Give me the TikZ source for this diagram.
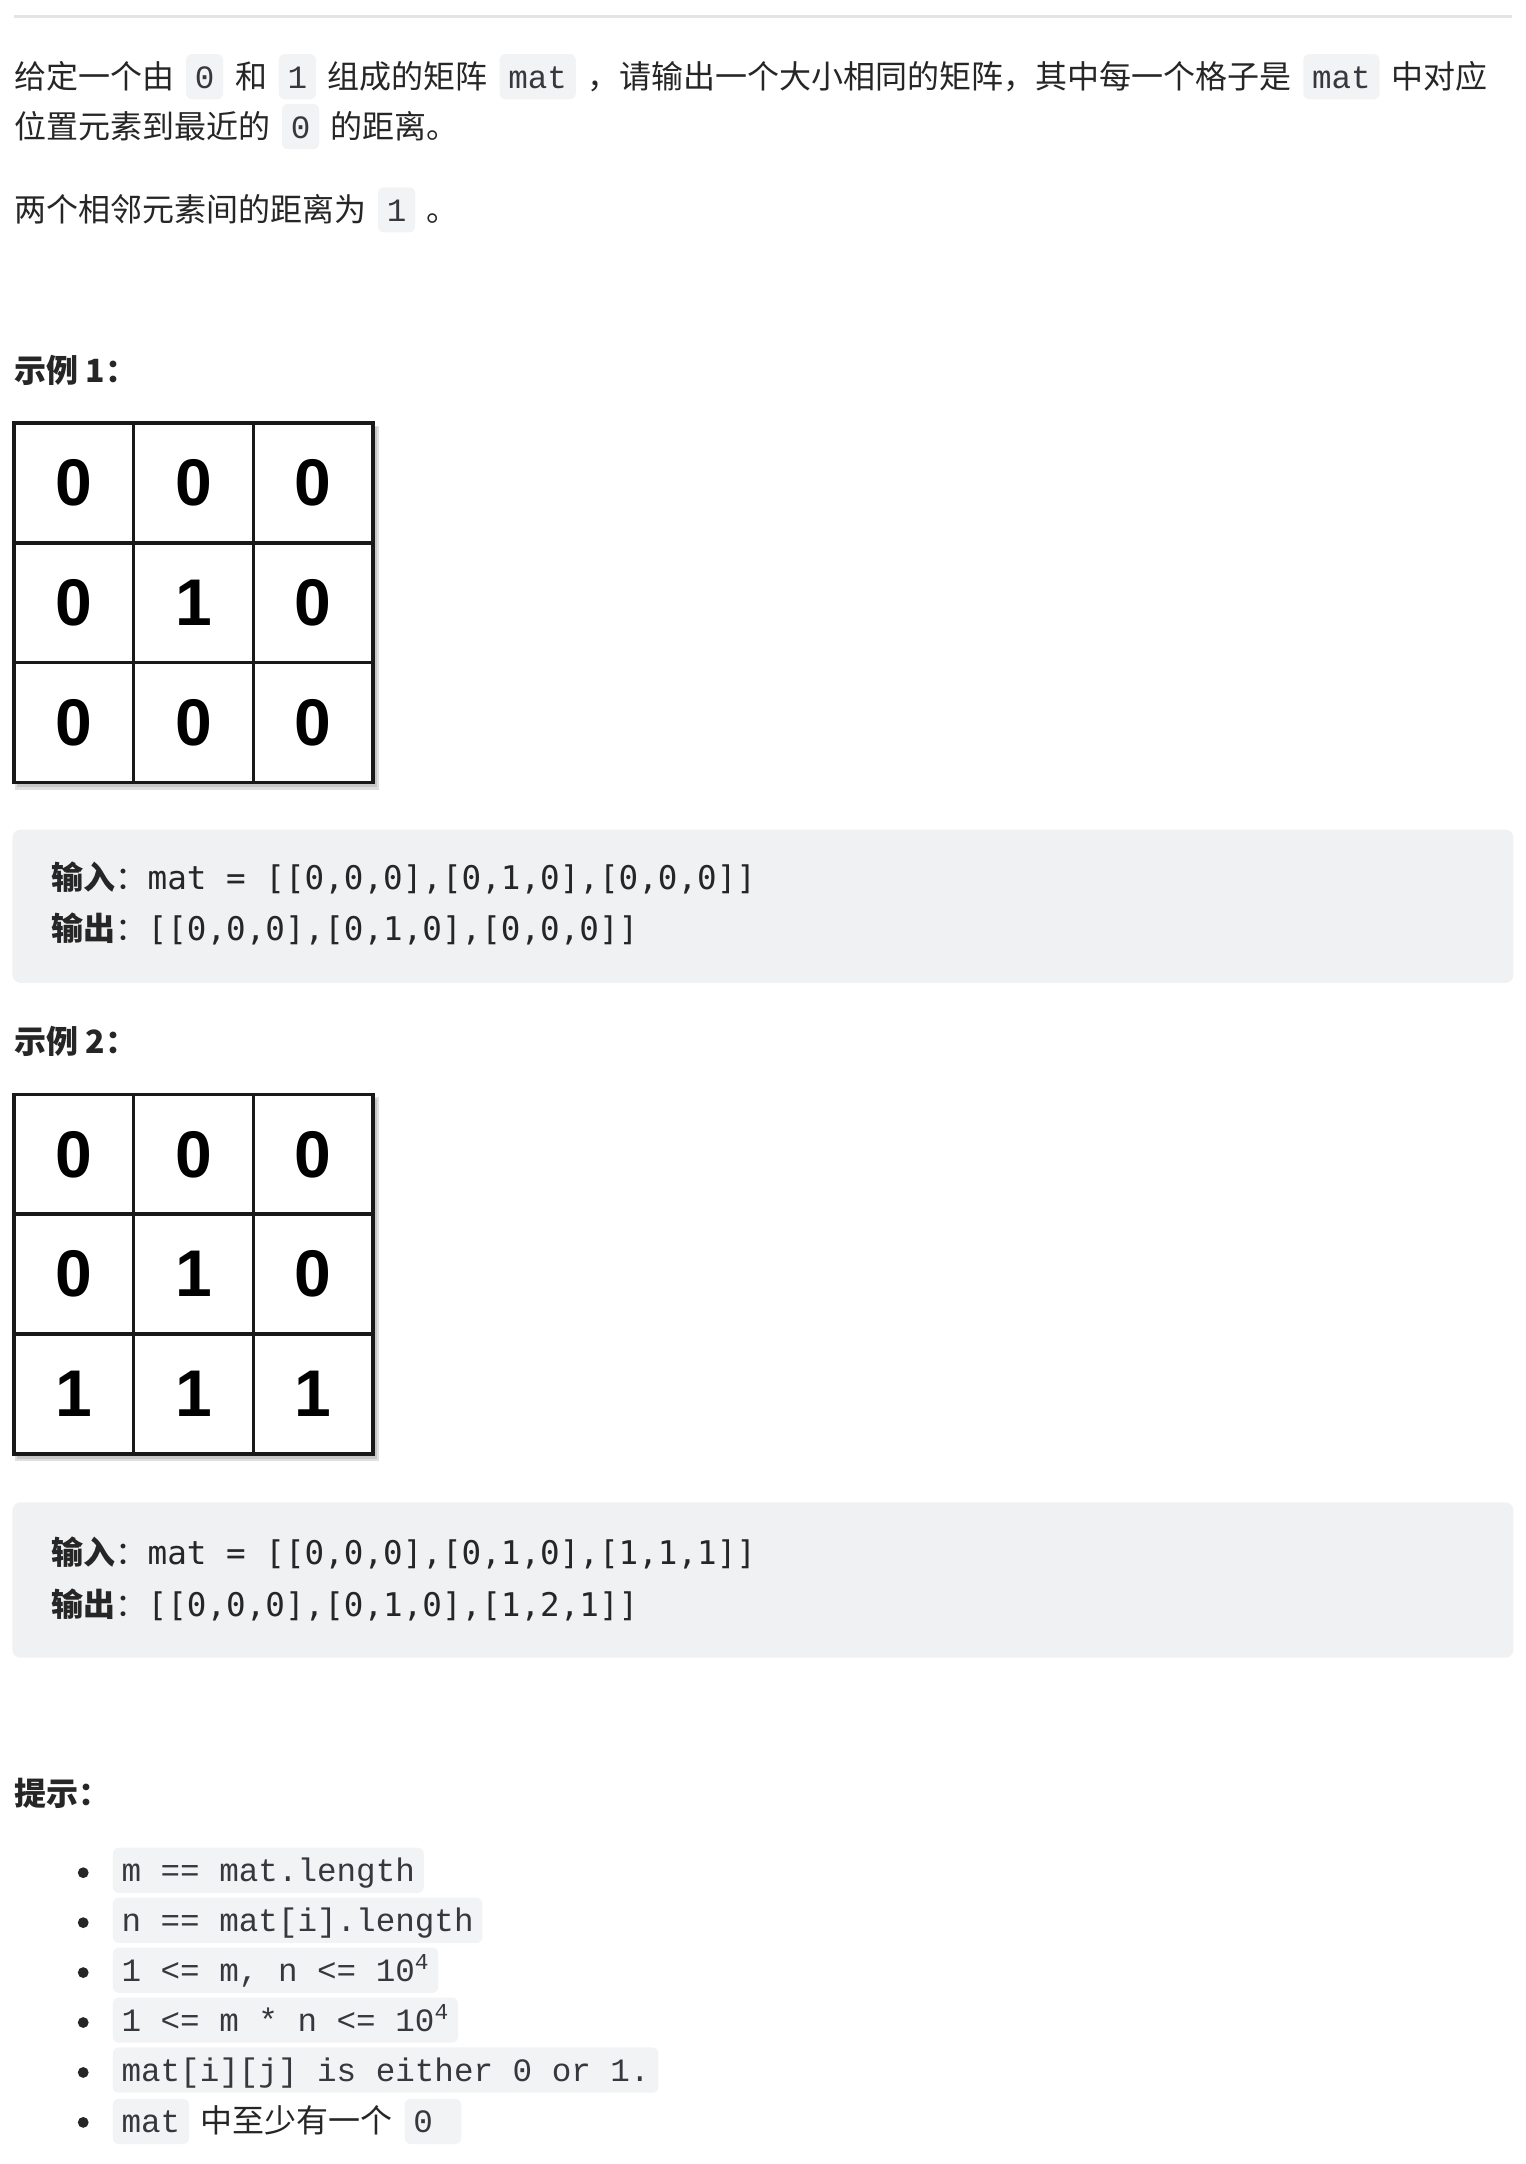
\documentclass[tikz,border=0pt]{standalone}
\usepackage{fontspec}
\setmainfont{Noto Sans CJK SC}
\newfontfamily\codefont{DejaVu Sans Mono}
\newfontfamily\pillfont{Liberation Mono}
\newfontfamily\cellfont{Liberation Sans}
\usetikzlibrary{positioning}
\definecolor{ink}{RGB}{38,38,38}
\definecolor{pillbg}{RGB}{242,243,245}
\definecolor{blockbg}{RGB}{240,241,243}
\definecolor{rulegray}{RGB}{228,228,232}
\definecolor{pillink}{RGB}{55,55,62}
\newcommand{\mono}[1]{{\codefont\fontsize{16.3}{20}\selectfont #1}}

\begin{document}
\begin{tikzpicture}[x=0.6937pt,y=-0.6937pt]
\tikzstyle{txt}=[inner sep=0,text=ink,font=\fontsize{16}{20}\selectfont]
\tikzstyle{head}=[txt,anchor=base west,font=\fontsize{16}{20}\selectfont\bfseries]
\tikzstyle{pill}=[fill=pillbg,rounded corners=3pt,inner xsep=4.4pt,inner ysep=0pt,text height=17pt,text depth=5.6pt,text=pillink,font=\pillfont\fontsize{16.3}{20}\selectfont]
\tikzstyle{code}=[txt,anchor=base west,font=\fontsize{16}{20}\selectfont]
\tikzstyle{cell}=[draw=black!90,line width=1.8pt,fill=white,minimum size=59.9pt,inner sep=0,font=\cellfont\bfseries\fontsize{33}{33}\selectfont]
\tikzstyle{dot}=[circle,fill=ink,inner sep=0,minimum size=5.4pt]
\useasboundingbox (0,0) rectangle (1100,1560);
\draw[rulegray,line width=1.4pt] (10,12) -- (1090,12);

\node[txt,anchor=base west] (l1a) at (10,63.5) {给定一个由};
\node[pill,base right=5.5pt of l1a] (l1b) {0};
\node[txt,base right=5.5pt of l1b] (l1c) {和};
\node[pill,base right=5.5pt of l1c] (l1d) {1};
\node[txt,base right=5.5pt of l1d] (l1e) {组成的矩阵};
\node[pill,base right=5.5pt of l1e] (l1f) {mat};
\node[txt,base right=5.5pt of l1f] (l1g) {，请输出一个大小相同的矩阵，其中每一个格子是};
\node[pill,base right=5.5pt of l1g] (l1h) {mat};
\node[txt,base right=5.5pt of l1h] (l1i) {中对应};

\node[txt,anchor=base west] (l2a) at (10,99.5) {位置元素到最近的};
\node[pill,base right=5.5pt of l2a] (l2b) {0};
\node[txt,base right=5.5pt of l2b] (l2c) {的距离。};

\node[txt,anchor=base west] (l3a) at (10,159.5) {两个相邻元素间的距离为};
\node[pill,base right=5.5pt of l3a] (l3b) {1};
\node[txt,base right=5.5pt of l3b] (l3c) {。};

\node[head] (ex1) at (10,275.5) {示例 1：};
\fill[black!12] (11,307) rectangle (273.5,569.5);
\fill[black!22] (12,308) rectangle (271.5,567.5);
\path (53.2,348.2) node[cell](a11){0} (139.5,348.2) node[cell](a12){0} (225.8,348.2) node[cell](a13){0};
\path (53.2,434.5) node[cell](a21){0} (139.5,434.5) node[cell](a22){1} (225.8,434.5) node[cell](a23){0};
\path (53.2,520.8) node[cell](a31){0} (139.5,520.8) node[cell](a32){0} (225.8,520.8) node[cell](a33){0};

\fill[blockbg,rounded corners=4pt] (9,598) rectangle (1091,708.5);
\node[code] (in1) at (37,641) {\textbf{输入}：\mono{mat = [[0,0,0],[0,1,0],[0,0,0]]}};
\node[code] (out1) at (37,678) {\textbf{输出}：\mono{[[0,0,0],[0,1,0],[0,0,0]]}};

\node[head] (ex2) at (10,759.5) {示例 2：};
\fill[black!12] (11,791) rectangle (273.5,1053.5);
\fill[black!22] (12,792) rectangle (271.5,1051.5);
\path (53.2,832.2) node[cell](b11){0} (139.5,832.2) node[cell](b12){0} (225.8,832.2) node[cell](b13){0};
\path (53.2,918.5) node[cell](b21){0} (139.5,918.5) node[cell](b22){1} (225.8,918.5) node[cell](b23){0};
\path (53.2,1004.8) node[cell](b31){1} (139.5,1004.8) node[cell](b32){1} (225.8,1004.8) node[cell](b33){1};

\fill[blockbg,rounded corners=4pt] (9,1083) rectangle (1091,1195);
\node[code] (in2) at (37,1128) {\textbf{输入}：\mono{mat = [[0,0,0],[0,1,0],[1,1,1]]}};
\node[code] (out2) at (37,1165) {\textbf{输出}：\mono{[[0,0,0],[0,1,0],[1,2,1]]}};

\node[head] (tip) at (10,1301.5) {提示：};

\node[dot] (d1) at (60,1350) {};
\node[pill,anchor=base west] (p1) at (81,1356.5) {m == mat.length};
\node[dot] (d2) at (60,1386) {};
\node[pill,anchor=base west] (p2) at (81,1392.5) {n == mat[i].length};
\node[dot] (d3) at (60,1422) {};
\node[pill,anchor=base west] (p3) at (81,1428.5) {1 <= m, n <= 10\textsuperscript{4}};
\node[dot] (d4) at (60,1458) {};
\node[pill,anchor=base west] (p4) at (81,1464.5) {1 <= m * n <= 10\textsuperscript{4}};
\node[dot] (d5) at (60,1494) {};
\node[pill,anchor=base west] (p5) at (81,1500.5) {mat[i][j] is either 0 or 1.};
\node[dot] (d6) at (60,1530) {};
\node[pill,anchor=base west] (p6a) at (81,1537.5) {mat};
\node[txt,base right=5.5pt of p6a] (p6b) {中至少有一个};
\node[pill,base right=5.5pt of p6b] (p6c) {0\phantom{0}};
\end{tikzpicture}
\end{document}
